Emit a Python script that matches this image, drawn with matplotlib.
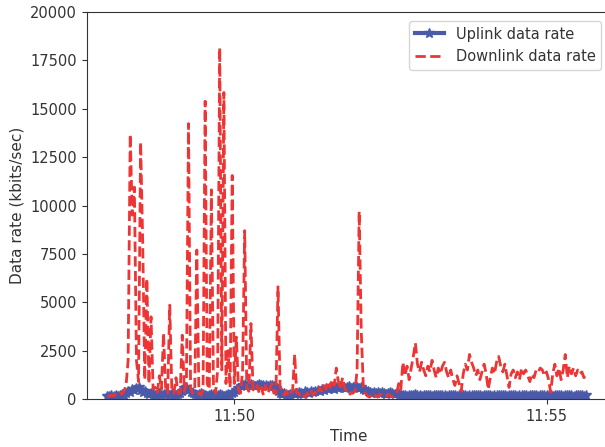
import matplotlib
matplotlib.use("Agg")
import matplotlib.pyplot as plt
import matplotlib.dates as mdates
import pandas as pd

# samples every 2 s starting at 11:47:58
START = "2018-01-01 11:47:58"
STEP = "2s"

downlink = [
    100, 150, 200, 150, 250, 200, 300, 250, 400, 700,
    2000, 13680, 9500, 10950, 2000, 900, 13280, 8100, 1000, 6220,
    800, 4250, 500, 600, 300, 1200, 500, 3400, 600, 300,
    4850, 400, 300, 1100, 300, 300, 3300, 400, 800, 14230,
    600, 300, 500, 7700, 300, 200, 500, 15390, 800, 500,
    10810, 600, 300, 1500, 18150, 1500, 15840, 800, 2500, 600,
    11550, 800, 3200, 500, 300, 1500, 8700, 600, 400, 3900,
    500, 400, 700, 300, 600, 200, 700, 300, 500, 800,
    300, 300, 5800, 600, 500, 200, 400, 150, 300, 400,
    2300, 300, 300, 100, 200, 100, 300, 150, 400, 200,
    350, 250, 600, 400, 700, 500, 900, 600, 1000, 700,
    1600, 900, 500, 1100, 600, 350, 200, 300, 300, 400,
    1500, 9700, 3500, 600, 300, 150, 100, 200, 300, 150,
    100, 250, 150, 100, 150, 250, 150, 100, 200, 300,
    800, 500, 1900, 1200, 1700, 1000, 1600, 2200, 2900, 1800,
    1400, 1900, 1500, 1200, 1700, 1400, 2000, 1500, 1100, 1600,
    1300, 1700, 1900, 1400, 1100, 1500, 1000, 700, 1200, 800,
    400, 1300, 1800, 1500, 2300, 1900, 1600, 1200, 1500, 1000,
    1400, 1800, 1300, 500, 1100, 1600, 1300, 1900, 2200, 1700,
    1400, 1800, 1200, 600, 1300, 1500, 1100, 1400, 1000, 1600,
    1300, 1500, 1200, 900, 1300, 1100, 1500, 1400, 1600, 1500,
    1200, 1400, 1000, 350, 1300, 1800, 1200, 1600, 1000, 1500,
    2300, 1100, 1700, 1300, 1600, 1200, 1500, 1300, 1400, 1100,
    1300,
]

uplink = [
    150, 150, 200, 150, 200, 150, 200, 250, 200, 300,
    400, 350, 500, 450, 550, 600, 450, 350, 400, 300,
    250, 300, 250, 200, 250, 300, 200, 250, 300, 250,
    200, 300, 250, 200, 250, 300, 400, 550, 600, 450,
    350, 300, 250, 200, 250, 300, 250, 200, 150, 200,
    250, 200, 150, 200, 250, 200, 150, 200, 250, 200,
    300, 350, 450, 550, 650, 700, 750, 700, 720, 750,
    700, 680, 720, 750, 700, 720, 700, 680, 720, 700,
    650, 550, 400, 300, 250, 300, 250, 200, 250, 300,
    250, 300, 350, 300, 250, 400, 350, 300, 400, 350,
    400, 450, 400, 500, 450, 550, 500, 600, 550, 500,
    600, 550, 650, 600, 550, 600, 650, 550, 600, 650,
    600, 550, 600, 500, 450, 400, 350, 300, 350, 300,
    350, 300, 350, 300, 250, 300, 350, 300, 250, 300,
    250, 200, 220, 200, 180, 200, 220, 200, 250, 220,
    200, 180, 200, 220, 200, 200, 180, 200, 220, 200,
    200, 220, 200, 180, 200, 220, 200, 200, 180, 200,
    220, 200, 200, 180, 200, 220, 200, 200, 220, 200,
    180, 200, 220, 200, 200, 180, 200, 220, 200, 200,
    220, 200, 180, 200, 200, 220, 200, 180, 200, 220,
    200, 200, 180, 200, 220, 200, 200, 180, 200, 220,
    200, 200, 220, 200, 180, 200, 200, 220, 200, 180,
    200, 220, 200, 200, 180, 200, 220, 200, 200, 180,
    200,
]

TEXT = "#333333"


def main() -> None:
    t = pd.date_range(START, periods=len(downlink), freq=STEP)

    fig = plt.figure(figsize=(6.05, 4.47), dpi=100)
    ax = fig.add_axes([86.5 / 605, 48 / 447, 523.5 / 605, 387 / 447])

    ax.plot(t, uplink, color="#4a5aa8", linewidth=3, marker="*",
            markersize=7, label="Uplink data rate")
    ax.plot(t, downlink, color="#ee3535", linewidth=2, linestyle="--",
            label="Downlink data rate")

    ax.set_xlim(pd.Timestamp("2018-01-01 11:47:38"), pd.Timestamp("2018-01-01 11:56:01"))
    ax.set_ylim(0, 20000)
    ax.set_yticks(range(0, 20001, 2500))
    ax.xaxis.set_major_locator(mdates.MinuteLocator(byminute=range(0, 60, 5)))
    ax.xaxis.set_major_formatter(mdates.DateFormatter("%H:%M"))

    ax.set_xlabel("Time", fontsize=11, color=TEXT)
    ax.set_ylabel("Data rate (kbits/sec)", fontsize=11, color=TEXT)
    ax.tick_params(labelsize=10.5, labelcolor=TEXT, color=TEXT)
    for s in ax.spines.values():
        s.set_color(TEXT)

    leg = ax.legend(loc="upper right", fontsize=10.5, borderaxespad=0.6)
    for txt in leg.get_texts():
        txt.set_color(TEXT)

    fig.savefig("out.png", dpi=100)
    plt.close(fig)


if __name__ == "__main__":
    main()
